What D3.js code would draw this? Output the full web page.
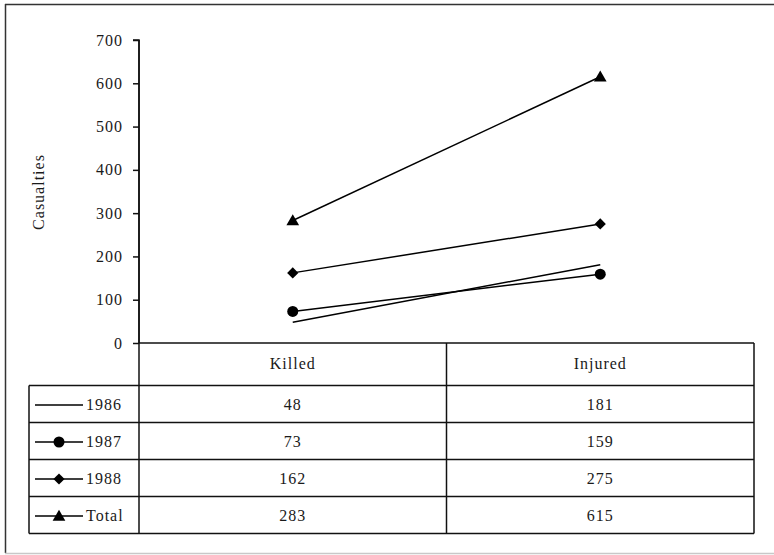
<!DOCTYPE html>
<html><head><meta charset="utf-8">
<script src="https://cdn.jsdelivr.net/npm/d3@7"></script>
<style>
html,body{margin:0;padding:0;background:#fff;}
svg{display:block;}
svg text{font-family:"Liberation Serif","DejaVu Serif",serif;font-size:16px;fill:#1a1a1a;letter-spacing:1px;}
</style></head><body>
<script>
const categories = ["Killed", "Injured"];
const seriesNames = ["1986", "1987", "1988", "Total"];
const seriesMarkers = ["none", "circle", "diamond", "triangle"];
const values1986 = [48, 181];
const values1987 = [73, 159];
const values1988 = [162, 275];
const valuesTotal = [283, 615];
const yTicks = [0, 100, 200, 300, 400, 500, 600, 700];
const yLabel = "Casualties";

const series = [values1986, values1987, values1988, valuesTotal].map((v, i) => ({
  name: seriesNames[i], marker: seriesMarkers[i], values: v
}));

const W = 774, H = 555;
const svg = d3.select("body").append("svg").attr("width", W).attr("height", H)
  .attr("font-family", "Liberation Serif, serif");

// outer frame
svg.append("line").attr("x1", 5).attr("x2", W + 5).attr("y1", 4.5).attr("y2", 4.5).attr("stroke", "#333").attr("stroke-width", 1.5);
svg.append("line").attr("x1", 5.5).attr("x2", 5.5).attr("y1", 4).attr("y2", 553).attr("stroke", "#333").attr("stroke-width", 1.5);
svg.append("line").attr("x1", 5).attr("x2", W + 5).attr("y1", 553.5).attr("y2", 553.5).attr("stroke", "#c8c8c8").attr("stroke-width", 1.5);

const plotL = 139, plotR = 754, plotT = 40, plotB = 343;
const x = d3.scaleBand().domain(categories).range([plotL, plotR]);
const y = d3.scaleLinear().domain([0, 700]).range([plotB, plotT]);

// y axis
const yAxis = svg.append("g").attr("transform", `translate(${plotL},0)`)
  .call(d3.axisLeft(y).tickValues(yTicks).tickSize(6).tickPadding(10).tickFormat(d3.format("d")));
yAxis.attr("font-family", null).attr("font-size", null);
yAxis.select(".domain").attr("stroke", "#111").attr("stroke-width", 1.5).attr("d", `M-6,${plotT}H0V${plotB}`);
yAxis.selectAll(".tick line").attr("stroke", "#111").attr("stroke-width", 1.5);
yAxis.selectAll(".tick text").attr("fill", "#1a1a1a");

svg.append("text").attr("transform", `translate(44,${192}) rotate(-90)`)
  .attr("text-anchor", "middle").text(yLabel);

// table
const tableL = 29, headT = plotB, rowT = 385.5, rowH = 37;
const g = svg.append("g").attr("stroke", "#111").attr("stroke-width", 1.5).attr("fill", "none");
g.append("line").attr("x1", plotL).attr("x2", plotR).attr("y1", headT).attr("y2", headT);
x.domain().forEach(c => {
  g.append("line").attr("x1", x(c) + x.bandwidth()).attr("x2", x(c) + x.bandwidth())
    .attr("y1", headT).attr("y2", rowT + rowH * series.length);
});
g.append("line").attr("x1", plotL).attr("x2", plotL).attr("y1", plotT).attr("y2", rowT + rowH * series.length);
g.append("line").attr("x1", tableL).attr("x2", tableL).attr("y1", rowT).attr("y2", rowT + rowH * series.length);
for (let i = 0; i <= series.length; i++) {
  g.append("line").attr("x1", tableL).attr("x2", plotR).attr("y1", rowT + rowH * i).attr("y2", rowT + rowH * i);
}
categories.forEach(c => {
  svg.append("text").attr("x", x(c) + x.bandwidth() / 2).attr("y", headT + 26)
    .attr("text-anchor", "middle").text(c);
});

function drawMarker(sel, type, cx, cy) {
  if (type === "circle") {
    sel.append("circle").attr("cx", cx).attr("cy", cy).attr("r", 5.5).attr("fill", "#000");
  } else if (type === "diamond") {
    sel.append("path").attr("d", d3.symbol(d3.symbolDiamond2, 80)()).attr("transform", `translate(${cx},${cy})`).attr("fill", "#000");
  } else if (type === "triangle") {
    sel.append("path").attr("d", d3.symbol(d3.symbolTriangle, 70)()).attr("transform", `translate(${cx},${cy + 1})`).attr("fill", "#000");
  }
}

series.forEach((s, i) => {
  const cy = rowT + rowH * i + rowH / 2;
  svg.append("line").attr("x1", 35).attr("x2", 83).attr("y1", cy + 1).attr("y2", cy + 1).attr("stroke", "#000").attr("stroke-width", 1.3);
  drawMarker(svg, s.marker, 59, cy + 1);
  svg.append("text").attr("x", 86).attr("y", cy + 6).text(s.name);
  s.values.forEach((v, j) => {
    svg.append("text").attr("x", x(categories[j]) + x.bandwidth() / 2).attr("y", cy + 6)
      .attr("text-anchor", "middle").text(v);
  });
});

const line = d3.line().x((d, j) => x(categories[j]) + x.bandwidth() / 2).y(d => y(d));
series.forEach(s => {
  svg.append("path").attr("d", line(s.values)).attr("fill", "none").attr("stroke", "#000").attr("stroke-width", 1.5);
  s.values.forEach((v, j) => drawMarker(svg, s.marker, x(categories[j]) + x.bandwidth() / 2, y(v)));
});
</script>
</body></html>
